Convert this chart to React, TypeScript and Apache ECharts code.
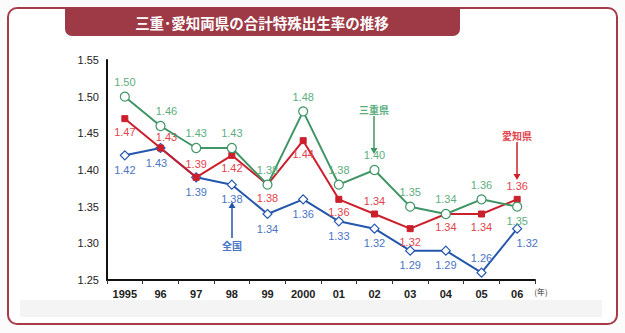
import React, { useEffect, useRef } from "react";
import * as echarts from "echarts";

const years = ["1995", "96", "97", "98", "99", "2000", "01", "02", "03", "04", "05", "06"];
const mie = [1.50, 1.46, 1.43, 1.43, 1.38, 1.48, 1.38, 1.40, 1.35, 1.34, 1.36, 1.35];
const aichi = [1.47, 1.43, 1.39, 1.42, 1.38, 1.44, 1.36, 1.34, 1.32, 1.34, 1.34, 1.36];
const zenkoku = [1.42, 1.43, 1.39, 1.38, 1.34, 1.36, 1.33, 1.32, 1.29, 1.29, 1.26, 1.32];
const mieLabelPos = ["top", "top", "top", "top", "top", "top", "top", "top", "top", "top", "top", "bottom"];
const aichiLabelPos = ["bottom", "top", "top", "bottom", "bottom", "bottom", "bottom", "top", "bottom", "bottom", "bottom", "top"];
const zenkokuLabelPos = ["bottom", "bottom", "bottom", "bottom", "bottom", "bottom", "bottom", "bottom", "bottom", "bottom", "top", "bottom"];
const yTicks = [1.25, 1.30, 1.35, 1.40, 1.45, 1.50, 1.55];

const GREEN = "#3f9565";
const GREEN_L = "#5dae7f";
const RED = "#cc1f2c";
const RED_L = "#e2434c";
const BLUE = "#2456ad";
const BLUE_L = "#4b75c6";
const FONT = "Liberation Sans, Arial, sans-serif";

function mkData(vals: number[], pos: string[], offsets?: Record<number, number[]>) {
  return vals.map((v, i) => ({
    value: v,
    label: { position: pos[i], offset: offsets && offsets[i] ? offsets[i] : [0, 0] },
  }));
}

export default function App() {
  const ref = useRef<HTMLDivElement>(null);
  useEffect(() => {
    if (!ref.current) return;
    const chart = echarts.init(ref.current, null, { renderer: "svg" });
    const labelBase = { show: true, fontSize: 11, fontFamily: FONT, distance: 4, formatter: (p: any) => p.value.toFixed(2) };
    chart.setOption({
      animation: false,
      backgroundColor: "#fbfbfb",
      graphic: [
        { type: "rect", z: -10, shape: { x: 8, y: 8, width: 609, height: 316, r: 9 }, style: { fill: "#ffffff", stroke: "#a63a47", lineWidth: 2 } },
        { type: "rect", z: -9, shape: { x: 20, y: 300, width: 582, height: 17 }, style: { fill: "#f4f4f4" } },
        { type: "rect", z: -8, shape: { x: 65, y: 8, width: 395, height: 28, r: [0, 0, 7, 7] }, style: { fill: "#9d3a45" } },
        { type: "text", x: 262, y: 22, style: { text: "三重･愛知両県の合計特殊出生率の推移", fill: "#ffffff", font: "bold 14.5px 'Noto Sans CJK JP', sans-serif", textAlign: "center", textVerticalAlign: "middle" } },
        { type: "text", x: 374, y: 109, style: { text: "三重県", fill: GREEN_L, font: "bold 10px 'Noto Sans CJK JP', sans-serif", textAlign: "center", textVerticalAlign: "middle" } },
        { type: "line", shape: { x1: 374, y1: 116, x2: 374, y2: 150 }, style: { stroke: GREEN, lineWidth: 1.5 } },
        { type: "polygon", shape: { points: [[370.5, 148], [377.5, 148], [374, 154]] }, style: { fill: GREEN } },
        { type: "text", x: 517, y: 135, style: { text: "愛知県", fill: RED_L, font: "bold 10px 'Noto Sans CJK JP', sans-serif", textAlign: "center", textVerticalAlign: "middle" } },
        { type: "line", shape: { x1: 517, y1: 142, x2: 517, y2: 176 }, style: { stroke: RED, lineWidth: 1.5 } },
        { type: "polygon", shape: { points: [[513.5, 174], [520.5, 174], [517, 180]] }, style: { fill: RED } },
        { type: "text", x: 232, y: 245, style: { text: "全国", fill: BLUE_L, font: "bold 10px 'Noto Sans CJK JP', sans-serif", textAlign: "center", textVerticalAlign: "middle" } },
        { type: "line", shape: { x1: 232, y1: 238, x2: 232, y2: 206 }, style: { stroke: BLUE, lineWidth: 1.5 } },
        { type: "polygon", shape: { points: [[228.5, 208], [235.5, 208], [232, 202]] }, style: { fill: BLUE } },
        { type: "text", x: 541, y: 291, style: { text: "(年)", fill: "#333", font: "8px 'Noto Sans CJK JP', sans-serif", textAlign: "center", textVerticalAlign: "middle" } },
      ],
      grid: { left: 107, right: 90, top: 60, bottom: 53 },
      xAxis: {
        type: "category",
        data: years,
        boundaryGap: true,
        axisLine: { lineStyle: { color: "#111", width: 2 } },
        axisTick: { show: true, inside: false, length: 4, lineStyle: { color: "#333", width: 1 } },
        axisLabel: { color: "#222", fontSize: 11, fontFamily: FONT, fontWeight: "bold", margin: 8 },
      },
      yAxis: {
        type: "value",
        min: 1.25,
        max: 1.55,
        interval: 0.05,
        splitLine: { show: false },
        axisLine: { show: true, lineStyle: { color: "#111", width: 2 } },
        axisTick: { show: false },
        axisLabel: { color: "#222", fontSize: 11, fontFamily: FONT, margin: 8, formatter: (v: number) => {
          const t = yTicks.find((x) => Math.abs(x - v) < 1e-6);
          return t !== undefined ? t.toFixed(2) : "";
        } },
      },
      series: [
        {
          name: "全国",
          type: "line",
          data: mkData(zenkoku, zenkokuLabelPos, { 11: [10, 0], 1: [-4, 0] }),
          symbol: "diamond",
          symbolSize: 9,
          lineStyle: { color: BLUE, width: 2 },
          itemStyle: { color: "#ffffff", borderColor: BLUE, borderWidth: 1.2 },
          label: { ...labelBase, color: BLUE_L },
          z: 2,
        },
        {
          name: "愛知県",
          type: "line",
          data: mkData(aichi, aichiLabelPos, { 1: [6, 2] }),
          symbol: "rect",
          symbolSize: 6,
          lineStyle: { color: RED, width: 2 },
          itemStyle: { color: RED, borderColor: RED },
          label: { ...labelBase, color: RED_L },
          z: 3,
        },
        {
          name: "三重県",
          type: "line",
          data: mkData(mie, mieLabelPos, { 1: [6, 0] }),
          symbol: "circle",
          symbolSize: 9,
          lineStyle: { color: GREEN, width: 2 },
          itemStyle: { color: "#ffffff", borderColor: GREEN, borderWidth: 1.2 },
          label: { ...labelBase, color: GREEN_L },
          z: 4,
        },
      ],
    });
    return () => chart.dispose();
  }, []);
  return <div ref={ref} style={{ position: "fixed", left: 0, top: 0, width: 625, height: 333 }} />;
}
